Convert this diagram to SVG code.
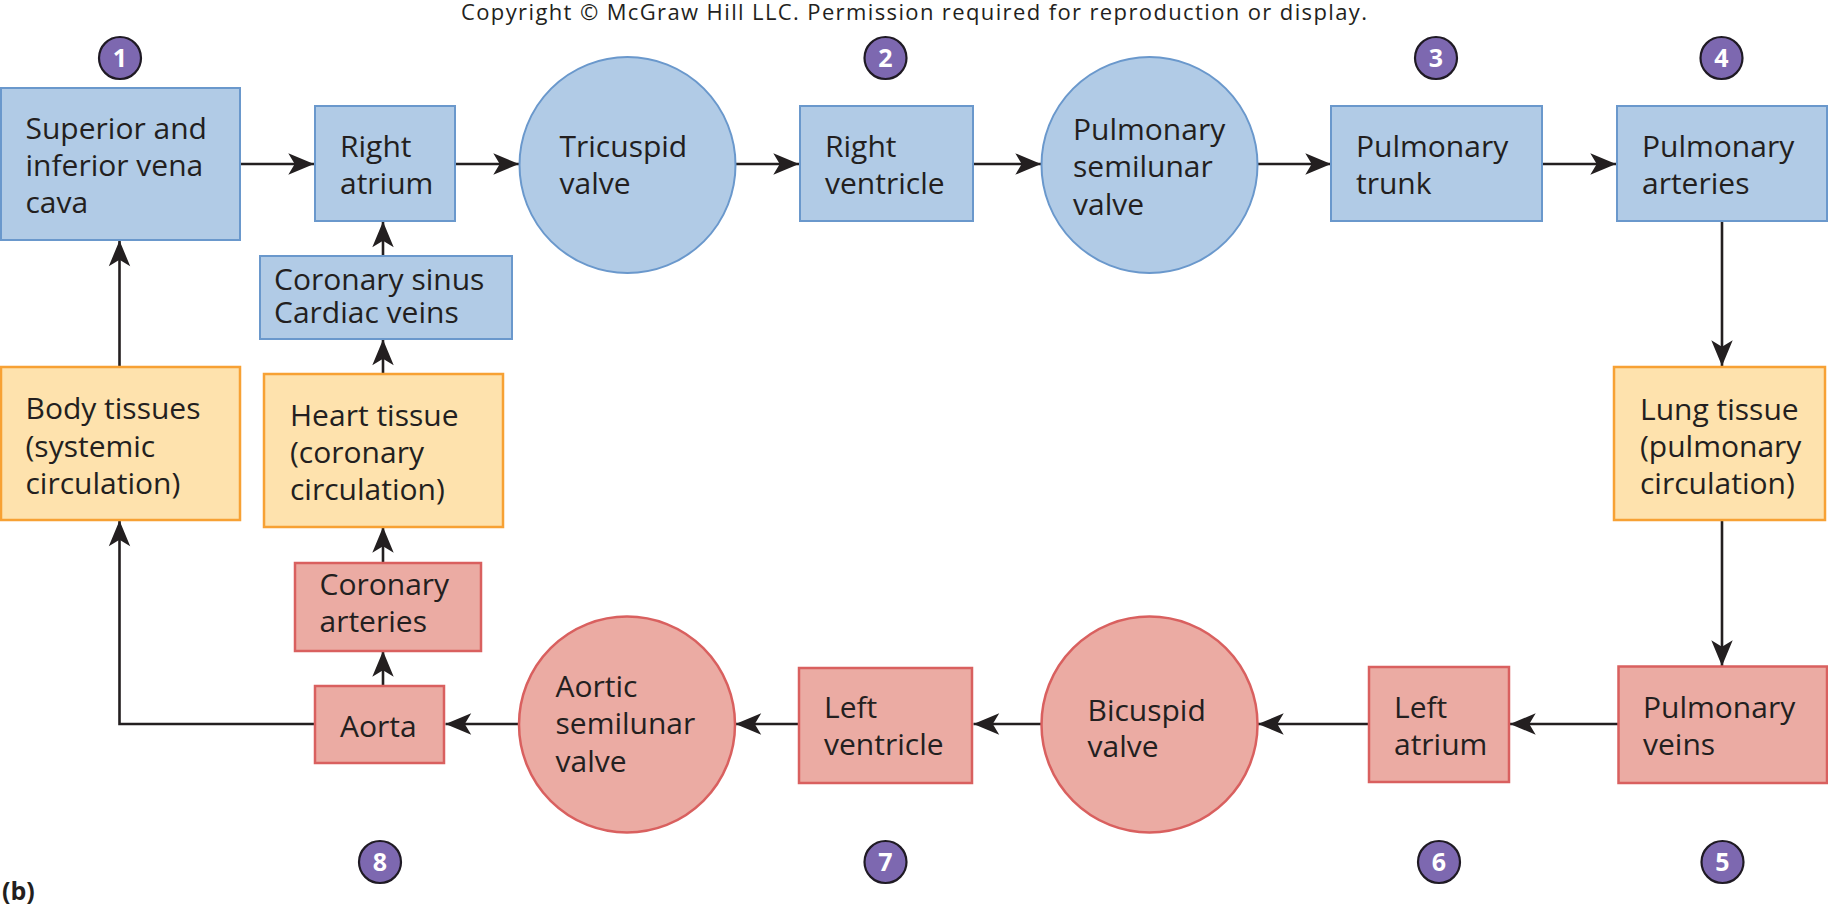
<svg xmlns="http://www.w3.org/2000/svg" width="1828" height="913" viewBox="0 0 1828 913">
<style>
  text { font-family: "Open Sans", "Liberation Sans", sans-serif; fill: #231f20; }
  .lbl { font-size: 30px; }
  .blue { fill: #b1cbe6; stroke: #6a98cc; stroke-width: 2; }
  .orange { fill: #fee2ad; stroke: #f7a134; stroke-width: 2.5; }
  .red { fill: #ebaba3; stroke: #d9605f; stroke-width: 2.5; }
  .badge circle { fill: #7d68b0; stroke: #1f1a24; stroke-width: 2.2; }
  .badge text { fill: #ffffff; font-size: 25px; font-weight: bold; text-anchor: middle; }
  .conn path { fill: none; stroke: #231f20; stroke-width: 2.6; marker-end: url(#arr); }
</style>
<defs>
  <marker id="arr" markerUnits="userSpaceOnUse" markerWidth="30" markerHeight="30" viewBox="-26 -12 28 24" refX="0" refY="0" orient="auto">
    <path d="M0,0 L-24,-10 L-18,0 L-24,10 Z" fill="#231f20"/>
  </marker>
</defs>
<rect width="1828" height="913" fill="#ffffff"/>

<text x="461" y="20" font-size="22" textLength="906" lengthAdjust="spacing">Copyright © McGraw Hill LLC. Permission required for reproduction or display.</text>

<g class="conn" id="connectors">
  <path d="M240,164 H314"/>
  <path d="M455,164 H519"/>
  <path d="M735.5,164 H799"/>
  <path d="M973,164 H1041"/>
  <path d="M1257.5,164 H1331"/>
  <path d="M1542,164 H1616"/>
  <path d="M1722,221 V366"/>
  <path d="M1722,520 V666"/>
  <path d="M1618,724 H1510"/>
  <path d="M1368,724 H1258"/>
  <path d="M1041,724 H973.5"/>
  <path d="M799,724 H735.5"/>
  <path d="M519,724 H445.5"/>
  <path d="M315,724 H119.5 V520.5"/>
  <path d="M119.5,366 V240.5"/>
  <path d="M383,686 V651"/>
  <path d="M383,563 V527"/>
  <path d="M383,374 V339.5"/>
  <path d="M383,256 V221.5"/>
</g>

<g id="svc">
  <rect class="blue" x="1" y="88" width="239" height="152"/>
  <text class="lbl"><tspan x="25.5" y="139">Superior and</tspan><tspan x="25.5" y="176">inferior vena</tspan><tspan x="25.5" y="213">cava</tspan></text>
</g>
<g id="right-atrium">
  <rect class="blue" x="315" y="106" width="140" height="115"/>
  <text class="lbl"><tspan x="340" y="157">Right</tspan><tspan x="340" y="194">atrium</tspan></text>
</g>
<g id="tricuspid">
  <circle class="blue" cx="627.5" cy="165" r="108"/>
  <text class="lbl"><tspan x="559.5" y="157">Tricuspid</tspan><tspan x="559.5" y="194">valve</tspan></text>
</g>
<g id="right-ventricle">
  <rect class="blue" x="800" y="106" width="173" height="115"/>
  <text class="lbl"><tspan x="825" y="157">Right</tspan><tspan x="825" y="194">ventricle</tspan></text>
</g>
<g id="pulmonary-semilunar">
  <circle class="blue" cx="1149.5" cy="165" r="108"/>
  <text class="lbl"><tspan x="1073" y="140">Pulmonary</tspan><tspan x="1073" y="177">semilunar</tspan><tspan x="1073" y="215">valve</tspan></text>
</g>
<g id="pulmonary-trunk">
  <rect class="blue" x="1331" y="106" width="211" height="115"/>
  <text class="lbl"><tspan x="1356" y="157">Pulmonary</tspan><tspan x="1356" y="194">trunk</tspan></text>
</g>
<g id="pulmonary-arteries">
  <rect class="blue" x="1617" y="106" width="210" height="115"/>
  <text class="lbl"><tspan x="1642" y="157">Pulmonary</tspan><tspan x="1642" y="194">arteries</tspan></text>
</g>
<g id="lung-tissue">
  <rect class="orange" x="1614" y="367" width="211" height="153"/>
  <text class="lbl"><tspan x="1640" y="420">Lung tissue</tspan><tspan x="1640" y="457">(pulmonary</tspan><tspan x="1640" y="494">circulation)</tspan></text>
</g>
<g id="pulmonary-veins">
  <rect class="red" x="1618.5" y="666.5" width="208.5" height="116.5"/>
  <text class="lbl"><tspan x="1643" y="718">Pulmonary</tspan><tspan x="1643" y="755">veins</tspan></text>
</g>
<g id="left-atrium">
  <rect class="red" x="1369" y="667" width="140" height="115"/>
  <text class="lbl"><tspan x="1394" y="718">Left</tspan><tspan x="1394" y="755">atrium</tspan></text>
</g>
<g id="bicuspid">
  <circle class="red" cx="1149.5" cy="724.5" r="108"/>
  <text class="lbl"><tspan x="1087.5" y="721">Bicuspid</tspan><tspan x="1087.5" y="757">valve</tspan></text>
</g>
<g id="left-ventricle">
  <rect class="red" x="799" y="668" width="173" height="115"/>
  <text class="lbl"><tspan x="824" y="718">Left</tspan><tspan x="824" y="755">ventricle</tspan></text>
</g>
<g id="aortic-semilunar">
  <circle class="red" cx="627" cy="724.5" r="108"/>
  <text class="lbl"><tspan x="555.5" y="697">Aortic</tspan><tspan x="555.5" y="734">semilunar</tspan><tspan x="555.5" y="772">valve</tspan></text>
</g>
<g id="aorta">
  <rect class="red" x="315" y="686" width="129" height="77"/>
  <text class="lbl" x="340" y="737">Aorta</text>
</g>
<g id="coronary-arteries">
  <rect class="red" x="295" y="563" width="186" height="88"/>
  <text class="lbl"><tspan x="319.5" y="595">Coronary</tspan><tspan x="319.5" y="632">arteries</tspan></text>
</g>
<g id="heart-tissue">
  <rect class="orange" x="264" y="374" width="239" height="153"/>
  <text class="lbl"><tspan x="290" y="426">Heart tissue</tspan><tspan x="290" y="463">(coronary</tspan><tspan x="290" y="500">circulation)</tspan></text>
</g>
<g id="coronary-sinus">
  <rect class="blue" x="260" y="256" width="252" height="83"/>
  <text class="lbl"><tspan x="274" y="290">Coronary sinus</tspan><tspan x="274" y="323">Cardiac veins</tspan></text>
</g>
<g id="body-tissues">
  <rect class="orange" x="1" y="367" width="239" height="153"/>
  <text class="lbl"><tspan x="25.5" y="419">Body tissues</tspan><tspan x="25.5" y="457">(systemic</tspan><tspan x="25.5" y="494">circulation)</tspan></text>
</g>

<g class="badge" id="badge-1"><circle cx="120" cy="58" r="21"/><text x="120" y="67">1</text></g>
<g class="badge" id="badge-2"><circle cx="885.5" cy="58" r="21"/><text x="885.5" y="67">2</text></g>
<g class="badge" id="badge-3"><circle cx="1436" cy="58" r="21"/><text x="1436" y="67">3</text></g>
<g class="badge" id="badge-4"><circle cx="1721.5" cy="58" r="21"/><text x="1721.5" y="67">4</text></g>
<g class="badge" id="badge-5"><circle cx="1722.5" cy="862" r="21"/><text x="1722.5" y="871">5</text></g>
<g class="badge" id="badge-6"><circle cx="1439" cy="862" r="21"/><text x="1439" y="871">6</text></g>
<g class="badge" id="badge-7"><circle cx="885.5" cy="862" r="21"/><text x="885.5" y="871">7</text></g>
<g class="badge" id="badge-8"><circle cx="380" cy="862" r="21"/><text x="380" y="871">8</text></g>

<text x="2" y="900" font-size="25" font-weight="bold">(b)</text>
</svg>
